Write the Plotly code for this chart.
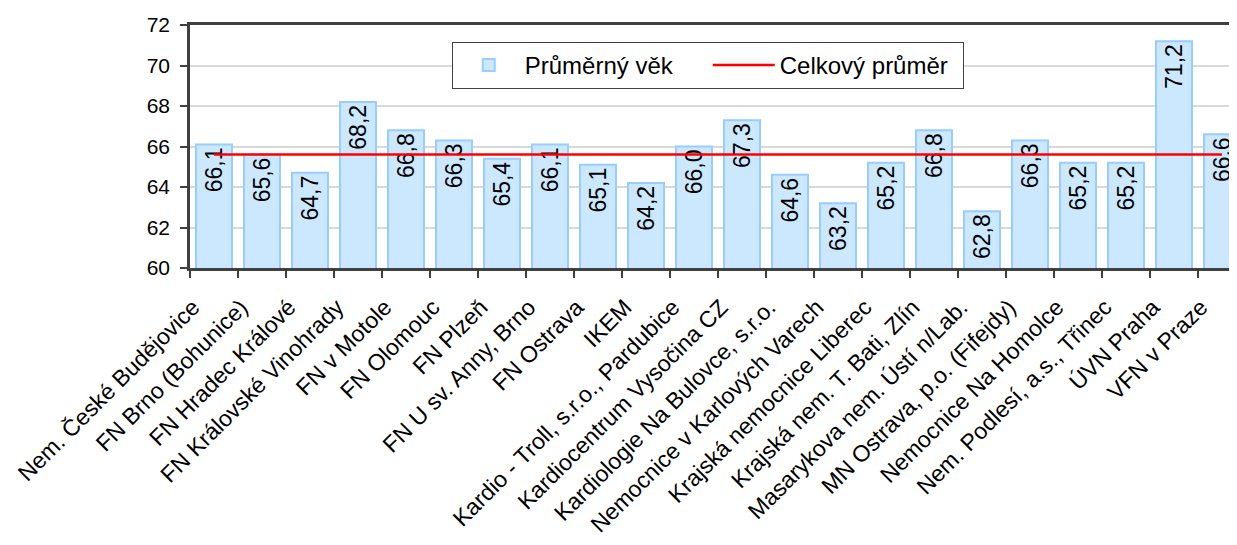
import plotly.graph_objects as go

categories = [
    "Nem. České Budějovice",
    "FN Brno (Bohunice)",
    "FN Hradec Králové",
    "FN Královské Vinohrady",
    "FN v Motole",
    "FN Olomouc",
    "FN Plzeň",
    "FN U sv. Anny, Brno",
    "FN Ostrava",
    "IKEM",
    "Kardio - Troll, s.r.o., Pardubice",
    "Kardiocentrum Vysočina CZ",
    "Kardiologie Na Bulovce, s.r.o.",
    "Nemocnice v Karlových Varech",
    "Krajská nemocnice Liberec",
    "Krajská nem. T. Bati, Zlín",
    "Masarykova nem. Ústí n/Lab.",
    "MN Ostrava, p.o. (Fifejdy)",
    "Nemocnice Na Homolce",
    "Nem. Podlesí, a.s., Třinec",
    "ÚVN Praha",
    "VFN v Praze",
]
prumerny_vek = [66.1, 65.6, 64.7, 68.2, 66.8, 66.3, 65.4, 66.1, 65.1, 64.2, 66.0,
                67.3, 64.6, 63.2, 65.2, 66.8, 62.8, 66.3, 65.2, 65.2, 71.2, 66.6]
celkovy_prumer = [65.6] * len(categories)
y_ticks = [60, 62, 64, 66, 68, 70, 72]

FONT = "Arial, Liberation Sans, sans-serif"

fig = go.Figure()
fig.add_trace(go.Bar(
    x=categories, y=prumerny_vek, name="Průměrný věk",
    marker=dict(color="#cce8ff", line=dict(color="#99ccff", width=2)),
    texttemplate="%{y:.1f}", textposition="inside", insidetextanchor="end",
    textangle=-90, textfont=dict(size=23, color="black", family=FONT),
))
fig.add_trace(go.Scatter(
    x=categories, y=celkovy_prumer, name="Celkový průměr", mode="lines",
    line=dict(color="#ff0000", width=2.5),
))

fig.update_layout(
    width=1229, height=537,
    margin=dict(l=182, r=0, t=17, b=277, autoexpand=False),
    paper_bgcolor="white", plot_bgcolor="white",
    separators=", ",
    bargap=0.25,
    uniformtext=dict(minsize=23, mode="show"),
    font=dict(family=FONT, color="black"),
    showlegend=True,
    legend=dict(
        orientation="h", x=0.25, xanchor="left", y=0.93, yanchor="top",
        bgcolor="white", bordercolor="#404040", borderwidth=1,
        font=dict(size=24, family=FONT, color="black"),
        entrywidth=178, itemwidth=62,
    ),
)
fig.update_xaxes(
    type="category", range=[-0.5, 21.3125], automargin=False,
    showline=True, linecolor="#404040", linewidth=2.5, mirror=True,
    ticks="outside", ticklen=7, tickwidth=2, tickcolor="#404040",
    tickson="boundaries", showgrid=False,
    tickangle=-45, tickfont=dict(size=23, family=FONT, color="black"),
    ticklabelstandoff=14, ticklabelshift=-21,
)
fig.update_yaxes(
    range=[60, 72], tickvals=y_ticks, automargin=False,
    showline=True, linecolor="#404040", linewidth=2.5,
    ticks="outside", ticklen=7, tickwidth=2, tickcolor="#404040",
    showgrid=True, gridcolor="#d9d9d9", gridwidth=2,
    tickfont=dict(size=21, family=FONT, color="black"),
    ticklabelstandoff=6,
    zeroline=False,
)

fig.write_html("out.html")
